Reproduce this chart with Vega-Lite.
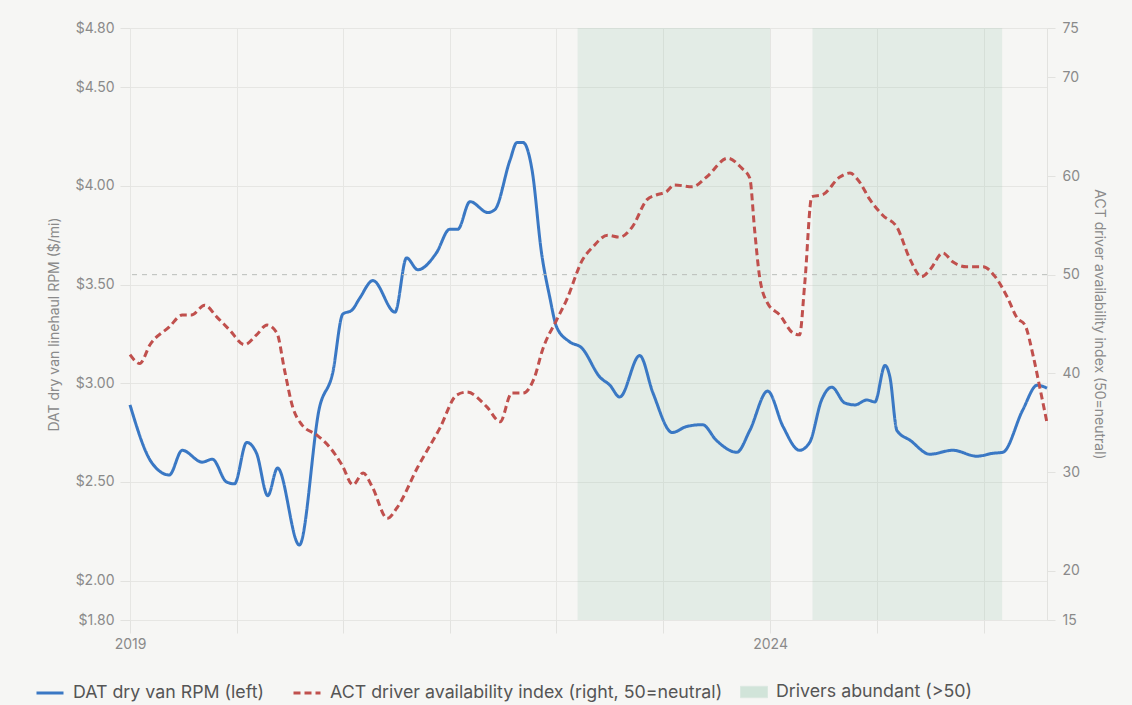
{
  "$schema": "https://vega.github.io/schema/vega-lite/v6.json",
  "autosize": {"type": "none"},
  "width": 917,
  "height": 592,
  "padding": {"left": 130, "top": 28, "right": 85, "bottom": 85},
  "background": "#f6f6f4",
  "config": {
    "view": {"stroke": null},
    "font": "Inter",
    "axis": {
      "labelColor": "#8a8a8a",
      "titleColor": "#8a8a8a",
      "labelFontSize": 14,
      "titleFontSize": 14,
      "titleFontWeight": "normal",
      "gridColor": "#e6e6e3",
      "tickColor": "#e2e2df",
      "domain": false
    },
    "legend": {
      "labelColor": "#555555",
      "labelFontSize": 17.8,
      "labelLimit": 0,
      "orient": "none",
      "direction": "horizontal",
      "title": null
    }
  },
  "datasets": {
    "bands": [
      {"start": "2022-07-01", "end": "2024-01-01", "label": "Drivers abundant (>50)"},
      {"start": "2024-05-01", "end": "2025-10-24", "label": "Drivers abundant (>50)"}
    ],
    "neutral": [{"level": 50}],
    "series": [
      {"date": "2019-01-01", "series": "DAT", "value": 2.89},
      {"date": "2019-03-03", "series": "DAT", "value": 2.60},
      {"date": "2019-04-23", "series": "DAT", "value": 2.535},
      {"date": "2019-05-30", "series": "DAT", "value": 2.66},
      {"date": "2019-07-26", "series": "DAT", "value": 2.60},
      {"date": "2019-08-24", "series": "DAT", "value": 2.615},
      {"date": "2019-10-03", "series": "DAT", "value": 2.50},
      {"date": "2019-10-26", "series": "DAT", "value": 2.49},
      {"date": "2019-11-30", "series": "DAT", "value": 2.70},
      {"date": "2019-12-28", "series": "DAT", "value": 2.645},
      {"date": "2020-01-29", "series": "DAT", "value": 2.43},
      {"date": "2020-02-26", "series": "DAT", "value": 2.57},
      {"date": "2020-04-28", "series": "DAT", "value": 2.18},
      {"date": "2020-06-25", "series": "DAT", "value": 2.88},
      {"date": "2020-08-01", "series": "DAT", "value": 3.05},
      {"date": "2020-08-30", "series": "DAT", "value": 3.35},
      {"date": "2020-09-25", "series": "DAT", "value": 3.37},
      {"date": "2020-10-17", "series": "DAT", "value": 3.43},
      {"date": "2020-11-24", "series": "DAT", "value": 3.52},
      {"date": "2021-01-26", "series": "DAT", "value": 3.36},
      {"date": "2021-02-28", "series": "DAT", "value": 3.635},
      {"date": "2021-04-01", "series": "DAT", "value": 3.575},
      {"date": "2021-05-24", "series": "DAT", "value": 3.66},
      {"date": "2021-07-01", "series": "DAT", "value": 3.78},
      {"date": "2021-07-24", "series": "DAT", "value": 3.78},
      {"date": "2021-08-28", "series": "DAT", "value": 3.92},
      {"date": "2021-10-18", "series": "DAT", "value": 3.865},
      {"date": "2021-11-07", "series": "DAT", "value": 3.88},
      {"date": "2021-12-20", "series": "DAT", "value": 4.13},
      {"date": "2022-01-09", "series": "DAT", "value": 4.22},
      {"date": "2022-01-26", "series": "DAT", "value": 4.22},
      {"date": "2022-02-21", "series": "DAT", "value": 4.08},
      {"date": "2022-03-20", "series": "DAT", "value": 3.66},
      {"date": "2022-04-12", "series": "DAT", "value": 3.44},
      {"date": "2022-05-02", "series": "DAT", "value": 3.285},
      {"date": "2022-06-08", "series": "DAT", "value": 3.21},
      {"date": "2022-07-12", "series": "DAT", "value": 3.18},
      {"date": "2022-09-03", "series": "DAT", "value": 3.03},
      {"date": "2022-10-01", "series": "DAT", "value": 2.99},
      {"date": "2022-10-29", "series": "DAT", "value": 2.93},
      {"date": "2022-12-25", "series": "DAT", "value": 3.14},
      {"date": "2023-02-01", "series": "DAT", "value": 2.95},
      {"date": "2023-03-28", "series": "DAT", "value": 2.75},
      {"date": "2023-05-07", "series": "DAT", "value": 2.78},
      {"date": "2023-06-22", "series": "DAT", "value": 2.79},
      {"date": "2023-08-01", "series": "DAT", "value": 2.71},
      {"date": "2023-09-28", "series": "DAT", "value": 2.65},
      {"date": "2023-11-04", "series": "DAT", "value": 2.76},
      {"date": "2023-12-25", "series": "DAT", "value": 2.96},
      {"date": "2024-02-07", "series": "DAT", "value": 2.78},
      {"date": "2024-03-25", "series": "DAT", "value": 2.66},
      {"date": "2024-04-23", "series": "DAT", "value": 2.70},
      {"date": "2024-05-27", "series": "DAT", "value": 2.915},
      {"date": "2024-06-25", "series": "DAT", "value": 2.98},
      {"date": "2024-08-01", "series": "DAT", "value": 2.90},
      {"date": "2024-08-30", "series": "DAT", "value": 2.89},
      {"date": "2024-10-03", "series": "DAT", "value": 2.915},
      {"date": "2024-10-26", "series": "DAT", "value": 2.905},
      {"date": "2024-11-24", "series": "DAT", "value": 3.09},
      {"date": "2024-12-08", "series": "DAT", "value": 3.03},
      {"date": "2024-12-28", "series": "DAT", "value": 2.76},
      {"date": "2025-02-04", "series": "DAT", "value": 2.71},
      {"date": "2025-04-01", "series": "DAT", "value": 2.64},
      {"date": "2025-06-05", "series": "DAT", "value": 2.66},
      {"date": "2025-08-13", "series": "DAT", "value": 2.63},
      {"date": "2025-09-28", "series": "DAT", "value": 2.645},
      {"date": "2025-10-26", "series": "DAT", "value": 2.65},
      {"date": "2025-12-22", "series": "DAT", "value": 2.865},
      {"date": "2026-02-01", "series": "DAT", "value": 2.99},
      {"date": "2026-03-01", "series": "DAT", "value": 2.975},
      {"date": "2019-01-01", "series": "ACT", "value": 41.9},
      {"date": "2019-01-29", "series": "ACT", "value": 41.0},
      {"date": "2019-02-27", "series": "ACT", "value": 42.9},
      {"date": "2019-04-23", "series": "ACT", "value": 44.7},
      {"date": "2019-05-30", "series": "ACT", "value": 45.9},
      {"date": "2019-06-25", "series": "ACT", "value": 45.9},
      {"date": "2019-08-02", "series": "ACT", "value": 46.9},
      {"date": "2019-09-06", "series": "ACT", "value": 45.7},
      {"date": "2019-10-12", "series": "ACT", "value": 44.4},
      {"date": "2019-11-24", "series": "ACT", "value": 42.9},
      {"date": "2019-12-28", "series": "ACT", "value": 43.9},
      {"date": "2020-01-27", "series": "ACT", "value": 44.9},
      {"date": "2020-02-24", "series": "ACT", "value": 44.1},
      {"date": "2020-03-17", "series": "ACT", "value": 40.3},
      {"date": "2020-04-09", "series": "ACT", "value": 36.6},
      {"date": "2020-05-05", "series": "ACT", "value": 34.8},
      {"date": "2020-06-17", "series": "ACT", "value": 33.75},
      {"date": "2020-07-24", "series": "ACT", "value": 32.5},
      {"date": "2020-08-28", "series": "ACT", "value": 30.7},
      {"date": "2020-09-28", "series": "ACT", "value": 28.7},
      {"date": "2020-10-27", "series": "ACT", "value": 29.9},
      {"date": "2020-11-22", "series": "ACT", "value": 28.5},
      {"date": "2021-01-04", "series": "ACT", "value": 25.3},
      {"date": "2021-02-02", "series": "ACT", "value": 26.45},
      {"date": "2021-04-01", "series": "ACT", "value": 30.5},
      {"date": "2021-06-03", "series": "ACT", "value": 34.45},
      {"date": "2021-07-21", "series": "ACT", "value": 37.8},
      {"date": "2021-08-19", "series": "ACT", "value": 38.1},
      {"date": "2021-10-15", "series": "ACT", "value": 36.6},
      {"date": "2021-11-22", "series": "ACT", "value": 35.1},
      {"date": "2021-12-25", "series": "ACT", "value": 38.0},
      {"date": "2022-01-26", "series": "ACT", "value": 38.0},
      {"date": "2022-02-28", "series": "ACT", "value": 39.6},
      {"date": "2022-03-23", "series": "ACT", "value": 42.4},
      {"date": "2022-05-02", "series": "ACT", "value": 45.4},
      {"date": "2022-05-30", "series": "ACT", "value": 47.4},
      {"date": "2022-07-15", "series": "ACT", "value": 51.5},
      {"date": "2022-08-13", "series": "ACT", "value": 52.8},
      {"date": "2022-09-25", "series": "ACT", "value": 54.0},
      {"date": "2022-10-29", "series": "ACT", "value": 53.8},
      {"date": "2022-12-03", "series": "ACT", "value": 54.8},
      {"date": "2023-01-15", "series": "ACT", "value": 57.6},
      {"date": "2023-02-12", "series": "ACT", "value": 58.1},
      {"date": "2023-03-11", "series": "ACT", "value": 58.4},
      {"date": "2023-04-03", "series": "ACT", "value": 59.1},
      {"date": "2023-05-24", "series": "ACT", "value": 58.9},
      {"date": "2023-07-04", "series": "ACT", "value": 59.9},
      {"date": "2023-09-02", "series": "ACT", "value": 61.8},
      {"date": "2023-10-12", "series": "ACT", "value": 60.8},
      {"date": "2023-11-04", "series": "ACT", "value": 59.8},
      {"date": "2023-11-18", "series": "ACT", "value": 54.5},
      {"date": "2023-12-02", "series": "ACT", "value": 49.8},
      {"date": "2023-12-25", "series": "ACT", "value": 47.1},
      {"date": "2024-01-29", "series": "ACT", "value": 45.9},
      {"date": "2024-03-06", "series": "ACT", "value": 44.1},
      {"date": "2024-03-25", "series": "ACT", "value": 43.9},
      {"date": "2024-04-09", "series": "ACT", "value": 49.15},
      {"date": "2024-04-29", "series": "ACT", "value": 57.9},
      {"date": "2024-05-30", "series": "ACT", "value": 58.1},
      {"date": "2024-07-18", "series": "ACT", "value": 59.9},
      {"date": "2024-08-16", "series": "ACT", "value": 60.3},
      {"date": "2024-09-08", "series": "ACT", "value": 59.6},
      {"date": "2024-10-12", "series": "ACT", "value": 57.6},
      {"date": "2024-11-18", "series": "ACT", "value": 56.0},
      {"date": "2024-12-28", "series": "ACT", "value": 54.8},
      {"date": "2025-02-04", "series": "ACT", "value": 51.5},
      {"date": "2025-03-08", "series": "ACT", "value": 49.8},
      {"date": "2025-04-01", "series": "ACT", "value": 50.5},
      {"date": "2025-05-08", "series": "ACT", "value": 52.2},
      {"date": "2025-06-05", "series": "ACT", "value": 51.3},
      {"date": "2025-07-15", "series": "ACT", "value": 50.8},
      {"date": "2025-08-31", "series": "ACT", "value": 50.8},
      {"date": "2025-10-04", "series": "ACT", "value": 49.8},
      {"date": "2025-11-08", "series": "ACT", "value": 47.7},
      {"date": "2025-12-06", "series": "ACT", "value": 45.6},
      {"date": "2025-12-28", "series": "ACT", "value": 44.9},
      {"date": "2026-01-21", "series": "ACT", "value": 41.7},
      {"date": "2026-02-10", "series": "ACT", "value": 38.3},
      {"date": "2026-03-01", "series": "ACT", "value": 35.0}
    ]
  },
  "layer": [
    {
      "data": {"name": "bands"},
      "mark": {"type": "rect", "opacity": 0.18},
      "encoding": {
        "x": {
          "field": "start",
          "type": "temporal",
          "scale": {
            "type": "utc",
            "domain": [
              {"year": 2019, "month": 1, "date": 1, "utc": true},
              {"year": 2026, "month": 3, "date": 1, "utc": true}
            ]
          },
          "axis": {
            "title": null,
            "grid": true,
            "tickSize": 13,
            "labelPadding": 4,
            "labelFlush": false,
            "values": [
              {"year": 2019, "month": 1, "date": 1, "utc": true},
              {"year": 2019, "month": 11, "date": 1, "utc": true},
              {"year": 2020, "month": 9, "date": 1, "utc": true},
              {"year": 2021, "month": 7, "date": 1, "utc": true},
              {"year": 2022, "month": 5, "date": 1, "utc": true},
              {"year": 2023, "month": 3, "date": 1, "utc": true},
              {"year": 2024, "month": 1, "date": 1, "utc": true},
              {"year": 2024, "month": 11, "date": 1, "utc": true},
              {"year": 2025, "month": 9, "date": 1, "utc": true}
            ],
            "labelExpr": "utcFormat(datum.value, '%m') == '01' ? utcFormat(datum.value, '%Y') : ''"
          }
        },
        "x2": {"field": "end"},
        "fill": {
          "field": "label",
          "type": "nominal",
          "scale": {"range": ["#8fc4a8"]},
          "legend": {
            "legendX": 610,
            "legendY": 650,
            "symbolType": "M-1,-0.42H1V0.42H-1Z",
            "symbolSize": 729,
            "symbolOpacity": 0.35,
            "symbolStrokeColor": "#a9d0bd",
            "symbolStrokeWidth": 1,
            "labelOffset": 8
          }
        }
      }
    },
    {
      "data": {"name": "series"},
      "transform": [{"filter": "datum.series == 'DAT'"}],
      "mark": {"type": "line", "interpolate": "monotone", "strokeWidth": 3},
      "encoding": {
        "x": {"field": "date", "type": "temporal"},
        "y": {
          "field": "value",
          "type": "quantitative",
          "scale": {"domain": [1.8, 4.8], "zero": false, "nice": false},
          "axis": {
            "orient": "left",
            "title": "DAT dry van linehaul RPM ($/mi)",
            "values": [1.8, 2.0, 2.5, 3.0, 3.5, 4.0, 4.5, 4.8],
            "format": "$.2f",
            "grid": true,
            "tickSize": 10,
            "labelPadding": 6,
            "titlePadding": 14
          }
        },
        "color": {
          "field": "series",
          "type": "nominal",
          "scale": {"domain": ["DAT", "ACT"], "range": ["#3a78c4", "#c0504d"]},
          "legend": {
            "legendX": -95,
            "legendY": 650,
            "symbolType": "stroke",
            "symbolSize": 729,
            "symbolStrokeWidth": 3,
            "labelOffset": 8,
            "columnPadding": 22,
            "labelExpr": "datum.label == 'DAT' ? 'DAT dry van RPM (left)' : 'ACT driver availability index (right, 50=neutral)'"
          }
        },
        "strokeDash": {
          "field": "series",
          "type": "nominal",
          "scale": {"domain": ["DAT", "ACT"], "range": [[1, 0], [7, 4]]},
          "legend": {
            "legendX": -95,
            "legendY": 650,
            "symbolType": "stroke",
            "symbolSize": 729,
            "symbolStrokeWidth": 3,
            "labelOffset": 8,
            "columnPadding": 22,
            "labelExpr": "datum.label == 'DAT' ? 'DAT dry van RPM (left)' : 'ACT driver availability index (right, 50=neutral)'"
          }
        }
      }
    },
    {
      "layer": [
        {
          "data": {"name": "neutral"},
          "mark": {"type": "rule", "strokeDash": [5, 5], "color": "#b9bdb9", "strokeWidth": 1},
          "encoding": {
            "y": {"field": "level", "type": "quantitative", "scale": {"domain": [15, 75], "zero": false, "nice": false}}
          }
        },
        {
          "data": {"name": "series"},
          "transform": [{"filter": "datum.series == 'ACT'"}],
          "mark": {"type": "line", "interpolate": "monotone", "strokeWidth": 3},
          "encoding": {
            "x": {"field": "date", "type": "temporal"},
            "y": {
              "field": "value",
              "type": "quantitative",
              "scale": {"domain": [15, 75], "zero": false, "nice": false},
              "axis": {
                "orient": "right",
                "title": "ACT driver availability index (50=neutral)",
                "values": [15, 20, 30, 40, 50, 60, 70, 75],
                "grid": false,
                "tickSize": 8,
                "labelPadding": 7,
                "titlePadding": 12,
                "domain": true,
                "domainColor": "#e2e2df"
              }
            },
            "color": {"field": "series", "type": "nominal"},
            "strokeDash": {"field": "series", "type": "nominal"}
          }
        }
      ]
    }
  ],
  "resolve": {"scale": {"y": "independent"}}
}
